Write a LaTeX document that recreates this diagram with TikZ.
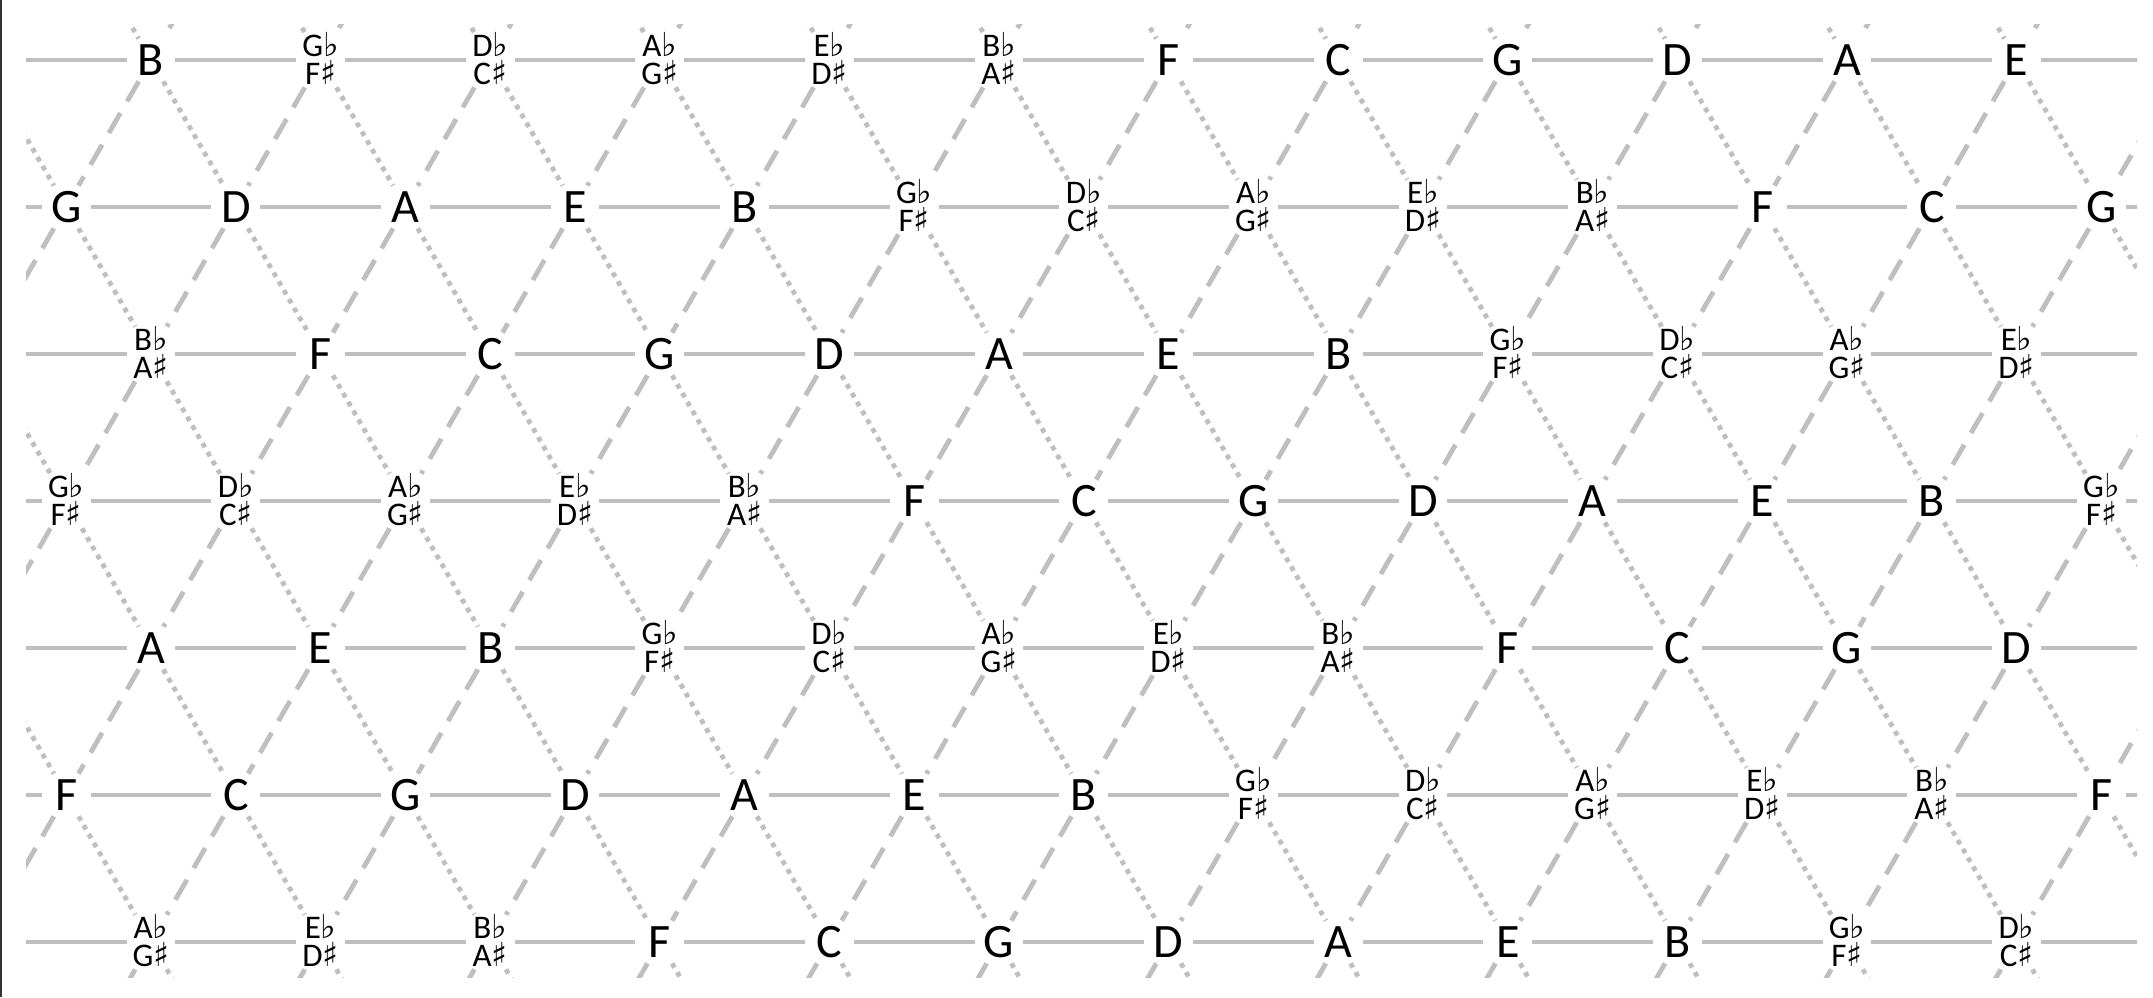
\documentclass[tikz,border=0pt]{standalone}
\usepackage{fontspec}
\setmainfont{Carlito}
\newfontfamily\accfont{DejaVu Sans}

\newcommand{\onetone}[1]{\raisebox{0pt}[18.25pt][2.75pt]{\fontsize{24}{24}\selectfont #1}}
\newcommand{\twotone}[2]{\raisebox{0pt}[11.65pt][15.35pt]{\fontsize{16.5}{14}\selectfont
  \begin{tabular}[t]{@{}c@{}}\smash{#1{\accfont ♭}}\\\smash{#2{\accfont ♯}}\end{tabular}}}
\newcommand{\tonename}[1]{\ifcase#1\relax \onetone{C}\or \twotone{D}{C}\or \onetone{D}\or
  \twotone{E}{D}\or \onetone{E}\or \onetone{F}\or \twotone{G}{F}\or \onetone{G}\or
  \twotone{A}{G}\or \onetone{A}\or \twotone{B}{A}\or \onetone{B}\fi}

\begin{document}
\begin{tikzpicture}[x=0.5pt,y=-0.5pt]
            \tikzstyle{every node}+=[inner sep=0pt]
            \tikzstyle{tone}=[rectangle, minimum width=24pt]
            \tikzstyle{fifthline}=[line width=2.3pt, black!25]
            \tikzstyle{minorthird}=[line width=2.4pt, black!25, dash pattern=on 2.4pt off 2.7pt]
            \tikzstyle{majorthird}=[line width=2.4pt, black!25, dash pattern=on 11.5pt off 6.8pt]
            \useasboundingbox (0,0) rectangle (2153,997);
            \draw [line width=1pt, black!80] (1,0) -- (1,997);
            % lattice points, outer ring as bare coordinates
            \foreach \R in {0,...,8}{
              \foreach \J in {0,...,28}{
                \pgfmathtruncatemacro\odd{mod(\R+\J,2)}
                \ifnum\odd=0
                  \pgfmathsetmacro\px{151+84.8*(\J-3)}
                  \pgfmathsetmacro\py{60+147*(\R-1)}
                  \pgfmathtruncatemacro\inside{and(\R>0,\R<8)*and(\J>1,\J<27)}
                  \ifnum\inside=1
                    \pgfmathtruncatemacro\pc{mod(11+(7*(\J-3)-(\R-1))/2+120,12)}
                    \node [tone] (t\R-\J) at (\px,\py) {\tonename{\pc}};
                  \else
                    \coordinate (t\R-\J) at (\px,\py);
                  \fi
                \fi
              }
            }
            % fifths, minor thirds, major thirds
            \begin{scope}
              \clip (26,24) rectangle (2137,977);
              \foreach \R in {0,...,8}{
                \foreach \J in {0,...,28}{
                  \pgfmathtruncatemacro\odd{mod(\R+\J,2)}
                  \ifnum\odd=0
                    \pgfmathtruncatemacro\Jr{\J+2}
                    \pgfmathtruncatemacro\Jdr{\J+1}
                    \pgfmathtruncatemacro\Jdl{\J-1}
                    \pgfmathtruncatemacro\Rd{\R+1}
                    \ifnum\J<27 \draw [fifthline] (t\R-\J) -- (t\R-\Jr); \fi
                    \ifnum\R<8
                      \ifnum\J<28 \draw [minorthird] (t\R-\J) -- (t\Rd-\Jdr); \fi
                      \ifnum\J>0 \draw [majorthird] (t\R-\J) -- (t\Rd-\Jdl); \fi
                    \fi
                  \fi
                }
              }
            \end{scope}
\end{tikzpicture}
\end{document}
